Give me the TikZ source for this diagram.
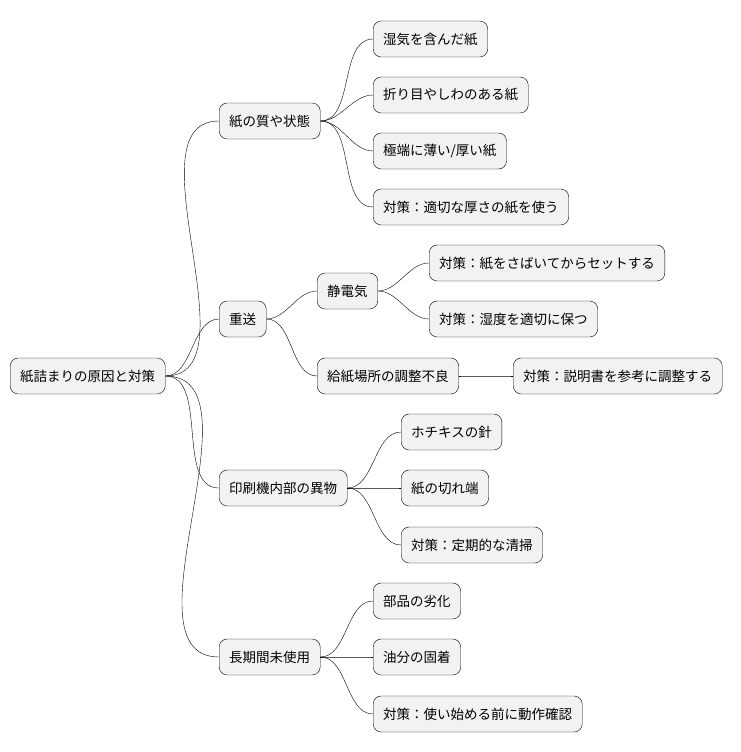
\documentclass[tikz,border=0pt]{standalone}
\usepackage{fontspec}
\setmainfont{Noto Sans CJK JP}
\begin{document}
\begin{tikzpicture}[x=1pt,y=-1pt,
  topic/.style={draw, rounded corners=8pt, fill=black!5, anchor=west, minimum height=36pt,
    inner xsep=10pt, font=\fontsize{13.5}{16}\selectfont},
  link/.style={out=0, in=180, looseness=0.9}]
\useasboundingbox (0,0) rectangle (740,752);
\node[topic] at (10,376) (root) {紙詰まりの原因と対策};
\node[topic] at (219,121) (q) {紙の質や状態};
\node[topic] at (219,319) (d) {重送};
\node[topic] at (219,488) (f) {印刷機内部の異物};
\node[topic] at (219,657) (l) {長期間未使用};
\node[topic] at (373,39) (q1) {湿気を含んだ紙};
\node[topic] at (373,95) (q2) {折り目やしわのある紙};
\node[topic] at (373,151) (q3) {極端に薄い/厚い紙};
\node[topic] at (373,207) (q4) {対策：適切な厚さの紙を使う};
\node[topic] at (317,291) (s) {静電気};
\node[topic] at (317,376) (k) {給紙場所の調整不良};
\node[topic] at (429,263) (s1) {対策：紙をさばいてからセットする};
\node[topic] at (429,319) (s2) {対策：湿度を適切に保つ};
\node[topic] at (513,376) (k1) {対策：説明書を参考に調整する};
\node[topic] at (401,432) (f1) {ホチキスの針};
\node[topic] at (401,488) (f2) {紙の切れ端};
\node[topic] at (401,545) (f3) {対策：定期的な清掃};
\node[topic] at (373,601) (l1) {部品の劣化};
\node[topic] at (373,657) (l2) {油分の固着};
\node[topic] at (373,714) (l3) {対策：使い始める前に動作確認};
% edges
\foreach \a/\b in {root/q,root/d,root/f,root/l,q/q1,q/q2,q/q3,q/q4,d/s,d/k,
  s/s1,s/s2,k/k1,f/f1,f/f2,f/f3,l/l1,l/l2,l/l3}
  \draw (\a.east) to[link] (\b.west);
\end{tikzpicture}
\end{document}
